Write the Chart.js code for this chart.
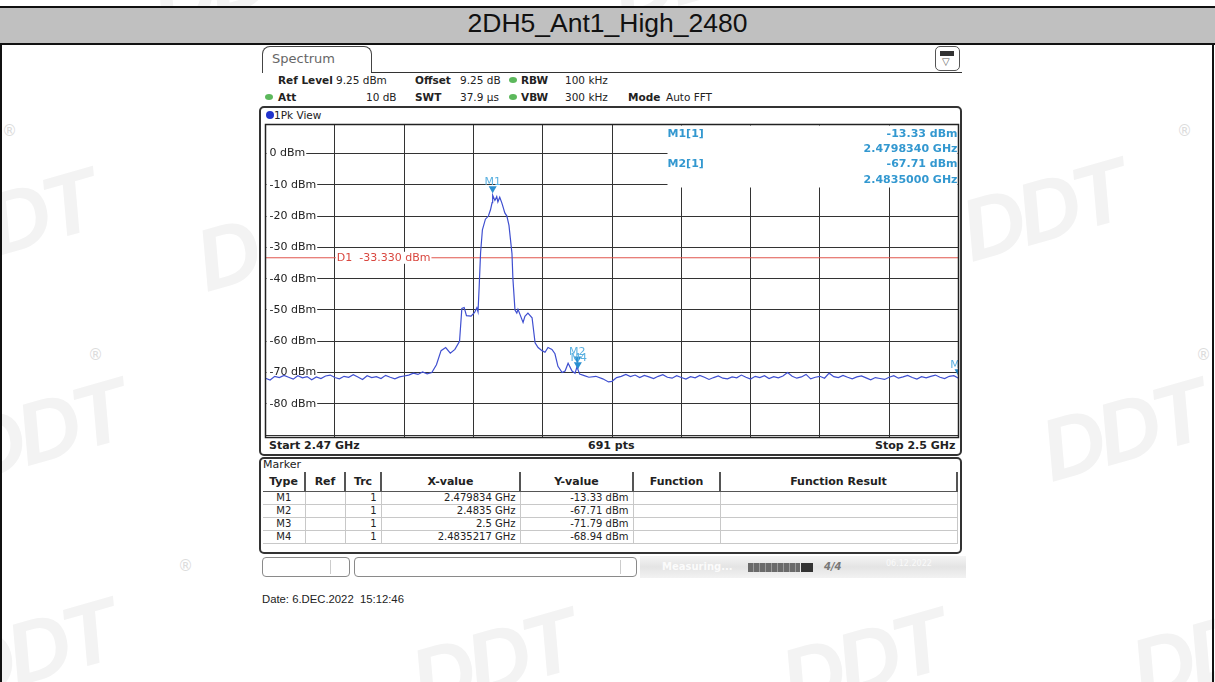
<!DOCTYPE html>
<html>
<head>
<meta charset="utf-8">
<script src="https://cdn.jsdelivr.net/npm/chart.js@4.4.0/dist/chart.umd.min.js"></script>
<style>
  body { margin: 0; width: 1215px; height: 682px; position: relative; overflow: hidden; background: #fff; font-family: "DejaVu Sans", sans-serif; color: #222; }
  .abs { position: absolute; }
  .wm { position: absolute; font: bold italic 88px "Liberation Sans", sans-serif; color: #f3f3f3; transform: rotate(-16deg); white-space: nowrap; letter-spacing: -6px; }
  .reg { position: absolute; font: 15px "DejaVu Sans", sans-serif; color: #dcdcdc; }
  #titlebar { left: 0; top: 6px; width: 1215px; height: 39px; background: #c0c0c0; border-top: 2px solid #111; border-bottom: 2px solid #111; box-sizing: border-box; }
  #title { left: 0; top: 8px; width: 1215px; height: 35px; line-height: 36px; text-align: center; font: 26.5px "Liberation Sans", Arial, sans-serif; color: #111; }
  #screen { left: 257px; top: 45px; width: 710px; height: 541px; background: #fff; }
  .tab { left: 262px; top: 46px; width: 110px; height: 27px; border: 1.5px solid #444; border-bottom: none; border-radius: 8px 8px 0 0; box-sizing: border-box; font-size: 13px; color: #666; padding: 4px 0 0 9px; background: #fff; }
  .hl { height: 0; border-top: 1.5px solid #333; }
  .hdr { font-size: 10.5px; white-space: nowrap; line-height: 12px; }
  .hdr b { font-weight: bold; }
  .dot { width: 8px; height: 6px; border-radius: 50%; background: #5cb85c; }
  .frame { border: 2px solid #333; border-radius: 5px; box-sizing: border-box; background: #fff; }
  .foot { font-weight: bold; font-size: 11px; line-height: 12px; white-space: nowrap; }
  table { border-collapse: collapse; table-layout: fixed; font-size: 10px; }
  th { font-size: 11px; font-weight: bold; height: 19px; padding: 0; border-right: 2px solid #555; border-bottom: 1px solid #555; }
  td { height: 12px; padding: 0 4px; border-right: 1px solid #c8c8c8; border-bottom: 1px solid #c8c8c8; text-align: right; line-height: 12px; white-space: nowrap; }
  td.c { text-align: center; }
  .sb { height: 20px; border: 1px solid #8a8a8a; border-radius: 4px; box-sizing: border-box; background: #fff; }
  #date { left: 262px; top: 593px; font: 11.3px "Liberation Sans", Arial, sans-serif; color: #222; }
</style>
</head>
<body>
<!-- faint company watermarks behind everything -->
<div class="wm" style="left:150px;top:-70px">DDT</div>
<div class="wm" style="left:610px;top:-80px">DDT</div>
<div class="wm" style="left:-70px;top:170px">DDT</div>
<div class="wm" style="left:195px;top:190px">DDT</div>
<div class="wm" style="left:960px;top:160px">DDT</div>
<div class="wm" style="left:-40px;top:380px">DDT</div>
<div class="wm" style="left:1040px;top:380px">DDT</div>
<div class="wm" style="left:-50px;top:600px">DDT</div>
<div class="wm" style="left:410px;top:610px">DDT</div>
<div class="wm" style="left:780px;top:610px">DDT</div>
<div class="wm" style="left:1130px;top:600px">DDT</div>
<div class="reg" style="left:2px;top:122px">®</div>
<div class="reg" style="left:1177px;top:122px">®</div>
<div class="reg" style="left:88px;top:346px">®</div>
<div class="reg" style="left:1196px;top:346px">®</div>
<div class="reg" style="left:178px;top:557px">®</div>

<div class="abs" style="left:0;top:6px;width:2px;height:676px;background:#111"></div>
<div class="abs" style="left:1212px;top:6px;width:2px;height:676px;background:#111"></div>
<div id="titlebar" class="abs"></div>
<div id="title" class="abs">2DH5_Ant1_High_2480</div>

<div id="screen" class="abs"></div>

<!-- analyzer header -->
<div class="abs tab">Spectrum</div>
<div class="abs hl" style="left:371px;top:72px;width:591px"></div>
<div class="abs" style="left:935px;top:46px;width:25px;height:25px;border:1.5px solid #555;border-radius:5px;box-sizing:border-box;background:#fff"></div>
<div class="abs" style="left:940px;top:51px;width:14px;height:5px;background:#333"></div>
<div class="abs" style="left:942px;top:56px;font-size:10px;color:#555">▽</div>

<div class="abs hdr" style="left:278px;top:74px"><b>Ref Level</b></div>
<div class="abs hdr" style="left:336px;top:74px">9.25 dBm</div>
<div class="abs hdr" style="left:415px;top:74px"><b>Offset</b></div>
<div class="abs hdr" style="left:460px;top:74px">9.25 dB</div>
<div class="abs dot" style="left:509px;top:77px"></div>
<div class="abs hdr" style="left:521px;top:74px"><b>RBW</b></div>
<div class="abs hdr" style="left:565px;top:74px">100 kHz</div>

<div class="abs dot" style="left:265px;top:94px"></div>
<div class="abs hdr" style="left:278px;top:91px"><b>Att</b></div>
<div class="abs hdr" style="left:366px;top:91px">10 dB</div>
<div class="abs hdr" style="left:415px;top:91px"><b>SWT</b></div>
<div class="abs hdr" style="left:460px;top:91px">37.9 µs</div>
<div class="abs dot" style="left:509px;top:94px"></div>
<div class="abs hdr" style="left:521px;top:91px"><b>VBW</b></div>
<div class="abs hdr" style="left:565px;top:91px">300 kHz</div>
<div class="abs hdr" style="left:628px;top:91px"><b>Mode</b></div>
<div class="abs hdr" style="left:666px;top:91px">Auto FFT</div>

<!-- trace window -->
<div class="abs frame" style="left:259px;top:106px;width:703px;height:350px"></div>
<div class="abs" style="left:266px;top:111px;width:8px;height:8px;border-radius:50%;background:#2233cc"></div>
<div class="abs hdr" style="left:274px;top:109px">1Pk View</div>
<div class="abs foot" style="left:269px;top:440px">Start 2.47 GHz</div>
<div class="abs foot" style="left:588px;top:440px">691 pts</div>
<div class="abs foot" style="left:875px;top:440px;width:78px;text-align:right">Stop 2.5 GHz</div>

<canvas id="spec" class="abs" style="left:262px;top:121px" width="700" height="320"></canvas>

<!-- marker table -->
<div class="abs frame" style="left:259px;top:457px;width:703px;height:97px"></div>
<div class="abs" style="left:263px;top:458px;font-size:11px;line-height:14px">Marker</div>
<table id="mtab" class="abs" style="left:263px;top:472px;width:694px">
  <colgroup><col style="width:42px"><col style="width:40px"><col style="width:36px"><col style="width:139px"><col style="width:113px"><col style="width:87px"><col style="width:237px"></colgroup>
  <thead><tr><th>Type</th><th>Ref</th><th>Trc</th><th>X-value</th><th>Y-value</th><th>Function</th><th>Function Result</th></tr></thead>
  <tbody></tbody>
</table>

<!-- status bar -->
<div class="abs sb" style="left:262px;top:557px;width:88px"></div>
<div class="abs" style="left:330px;top:560px;width:1px;height:14px;background:#ccc"></div>
<div class="abs sb" style="left:354px;top:557px;width:283px"></div>
<div class="abs" style="left:620px;top:560px;width:1px;height:14px;background:#ccc"></div>
<div class="abs" style="left:640px;top:556px;width:326px;height:22px;background:linear-gradient(180deg,#f4f4f4,#e4e4e4 50%,#f2f2f2)"></div>
<div class="abs" style="left:662px;top:561px;font-size:10px;font-weight:bold;color:#fbfbfb">Measuring...</div>
<div class="abs" style="left:748px;top:563px;width:52px;height:9px;background:repeating-linear-gradient(90deg,#6a6a6a 0 5px,#9a9a9a 5px 6px)"></div>
<div class="abs" style="left:801px;top:563px;width:12px;height:9px;background:#333"></div>
<div class="abs" style="left:824px;top:561px;font-size:10px;font-weight:bold;color:#777;font-style:italic">4/4</div>
<div class="abs" style="left:886px;top:559px;font-size:8px;color:#fafafa">06.12.2022</div>

<div id="date" class="abs">Date: 6.DEC.2022&nbsp;&nbsp;15:12:46</div>

<script>
// sweep: 2.47 GHz .. 2.5 GHz, ref level 9.25 dBm, 10 dB/div
const startMHz = 2470;
const stopMHz = 2500;
const refLevel = 9.25;
const bottomLevel = -90.75;
const freqGridMHz = [2470, 2473, 2476, 2479, 2482, 2485, 2488, 2491, 2494, 2497, 2500];
const levelGrid = [0, -10, -20, -30, -40, -50, -60, -70, -80, -90];
const levelLabels = [0, -10, -20, -30, -40, -50, -60, -70, -80];

// trace 1, [MHz, dBm]
const floorBelow = [
  [2470.0, -71.8], [2470.2, -72.4], [2470.4, -71.2], [2470.6, -71.6], [2470.8, -70.9],
  [2471.0, -71.5], [2471.2, -72.1], [2471.4, -71.0], [2471.6, -71.7], [2471.8, -71.3],
  [2472.0, -72.3], [2472.2, -71.4], [2472.4, -71.9], [2472.6, -71.1], [2472.8, -70.8],
  [2473.0, -71.6], [2473.2, -72.0], [2473.4, -71.2], [2473.6, -71.5], [2473.8, -70.7],
  [2474.0, -71.4], [2474.2, -72.2], [2474.4, -71.0], [2474.6, -71.6], [2474.8, -71.3],
  [2475.0, -71.9], [2475.2, -70.9], [2475.4, -71.5], [2475.6, -72.0], [2475.8, -71.4],
  [2476.0, -71.1], [2476.2, -70.8], [2476.4, -70.2], [2476.6, -70.6], [2476.8, -69.8],
  [2477.0, -70.4], [2477.2, -70.0]
];
const mainLobe = [
  [2477.4, -67.5], [2477.6, -63.0], [2477.8, -62.0], [2478.0, -63.8], [2478.2, -62.6],
  [2478.4, -60.0], [2478.5, -49.5], [2478.6, -49.2], [2478.7, -51.8], [2478.9, -52.0],
  [2479.05, -50.8], [2479.15, -49.3], [2479.2, -50.6], [2479.25, -42.6], [2479.31, -31.8],
  [2479.39, -24.4], [2479.52, -21.0], [2479.65, -20.0], [2479.74, -18.0], [2479.81, -15.7],
  [2479.834, -13.33], [2479.93, -15.0], [2480.01, -13.8], [2480.06, -15.5], [2480.14, -14.0],
  [2480.23, -15.8], [2480.28, -17.0], [2480.36, -19.0], [2480.45, -20.0], [2480.54, -23.0],
  [2480.67, -32.0], [2480.71, -40.0], [2480.80, -50.0], [2480.88, -51.0], [2480.93, -49.8],
  [2481.02, -51.5], [2481.15, -54.0], [2481.23, -52.0], [2481.36, -51.0], [2481.54, -52.5],
  [2481.67, -60.5], [2481.80, -62.0], [2481.97, -63.0], [2482.10, -63.5], [2482.23, -62.0],
  [2482.40, -62.6], [2482.53, -64.0], [2482.66, -68.0], [2482.84, -70.0], [2482.97, -69.5],
  [2483.10, -67.0], [2483.27, -69.5], [2483.40, -70.2], [2483.47, -68.5], [2483.50, -67.71],
  [2483.52, -68.94], [2483.60, -70.5], [2483.80, -71.0], [2484.00, -71.5], [2484.30, -71.2],
  [2484.60, -72.0], [2484.85, -73.0], [2485.00, -72.8], [2485.20, -71.6], [2485.40, -71.2]
];
const floorAbove = [
  [2485.6, -70.6], [2485.8, -71.3], [2486.0, -70.8], [2486.2, -71.6], [2486.4, -70.9],
  [2486.6, -71.4], [2486.8, -71.9], [2487.0, -71.2], [2487.2, -70.7], [2487.4, -71.5],
  [2487.6, -71.8], [2487.8, -71.0], [2488.0, -71.6], [2488.2, -72.1], [2488.4, -71.3],
  [2488.6, -71.7], [2488.8, -70.9], [2489.0, -71.5], [2489.2, -72.2], [2489.4, -71.6],
  [2489.6, -71.1], [2489.8, -71.8], [2490.0, -72.0], [2490.2, -71.4], [2490.4, -71.7],
  [2490.6, -70.8], [2490.8, -71.5], [2491.0, -72.1], [2491.2, -71.2], [2491.4, -71.6],
  [2491.6, -71.0], [2491.8, -71.9], [2492.0, -71.3], [2492.2, -71.7], [2492.4, -71.1],
  [2492.6, -70.0], [2492.8, -71.2], [2493.0, -71.8], [2493.2, -71.4], [2493.4, -70.6],
  [2493.6, -72.0], [2493.8, -71.5], [2494.0, -71.2], [2494.2, -71.8], [2494.4, -70.2],
  [2494.6, -71.3], [2494.8, -71.6], [2495.0, -70.9], [2495.2, -71.5], [2495.4, -72.0],
  [2495.6, -71.4], [2495.8, -71.1], [2496.0, -71.7], [2496.2, -72.3], [2496.4, -71.6],
  [2496.6, -71.9], [2496.8, -72.2], [2497.0, -71.5], [2497.2, -71.0], [2497.4, -71.8],
  [2497.6, -71.4], [2497.8, -70.9], [2498.0, -71.6], [2498.2, -72.1], [2498.4, -71.3],
  [2498.6, -71.7], [2498.8, -71.2], [2499.0, -70.8], [2499.2, -71.5], [2499.4, -71.9],
  [2499.6, -71.2], [2499.8, -71.0], [2500.0, -71.79]
];

const displayLine = -33.33;

const markerNames = ["M1", "M2", "M3", "M4"];
const markerFreqGHz = [2.479834, 2.4835, 2.5, 2.4835217];
const markerFreqText = ["2.479834 GHz", "2.4835 GHz", "2.5 GHz", "2.4835217 GHz"];
const markerLevel = [-13.33, -67.71, -71.79, -68.94];
const markerTrace = [1, 1, 1, 1];

// marker table rows
const tbody = document.querySelector("#mtab tbody");
markerNames.forEach((name, i) => {
    const tr = document.createElement("tr");
    tr.innerHTML = `<td class="c">${name}</td><td></td><td>${markerTrace[i]}</td>` +
        `<td>${markerFreqText[i]}</td><td>${markerLevel[i].toFixed(2)} dBm</td><td></td><td></td>`;
    tbody.appendChild(tr);
});

const traceData = floorBelow.concat(mainLobe, floorAbove).map(p => ({ x: p[0], y: p[1] }));

const markerBlue = "#2a8fd0";
const readoutBlue = "#3398d0";

const overlay = {
    id: "overlay",
    beforeDatasetsDraw(chart) {
        const { ctx, chartArea: a, scales: { y } } = chart;
        ctx.save();
        ctx.font = '11px "DejaVu Sans"';
        ctx.textBaseline = "middle";
        levelLabels.forEach(v => {
            const py = y.getPixelForValue(v);
            const t = v + " dBm";
            const w = ctx.measureText(t).width;
            ctx.fillStyle = "#fff";
            ctx.fillRect(a.left + 1, py - 6, w + 4, 12);
            ctx.fillStyle = "#222";
            ctx.fillText(t, a.left + 4, py);
        });

        // marker readout in the top right corner
        const boxLeft = a.left + 402;
        const boxBottom = a.top + 62;
        ctx.fillStyle = "#fff";
        ctx.fillRect(boxLeft, a.top + 1, a.right - boxLeft - 1, boxBottom - a.top);
        ctx.font = 'bold 11px "DejaVu Sans"';
        ctx.fillStyle = readoutBlue;
        const rows = [
            ["M1[1]", markerLevel[0].toFixed(2) + " dBm"],
            ["", markerFreqGHz[0].toFixed(7) + " GHz"],
            ["M2[1]", markerLevel[1].toFixed(2) + " dBm"],
            ["", markerFreqGHz[1].toFixed(7) + " GHz"]
        ];
        rows.forEach((r, i) => {
            const py = a.top + 9.5 + i * 15.3;
            ctx.textAlign = "left";
            ctx.fillText(r[0], boxLeft, py);
            ctx.textAlign = "right";
            ctx.fillText(r[1], a.right - 1, py);
        });
        ctx.restore();
    },
    afterDatasetsDraw(chart) {
        const { ctx, chartArea: a, scales: { x, y } } = chart;
        ctx.save();

        // display line label
        const dy = y.getPixelForValue(displayLine);
        ctx.font = '11px "DejaVu Sans"';
        ctx.textBaseline = "middle";
        const label = "D1  " + displayLine.toFixed(3) + " dBm";
        const lx = x.getPixelForValue(2473) + 2;
        ctx.fillStyle = "#fff";
        ctx.fillRect(lx - 1, dy - 6, ctx.measureText(label).width + 2, 12);
        ctx.fillStyle = "#d9473f";
        ctx.fillText(label, lx, dy);

        // markers
        ctx.beginPath();
        ctx.rect(a.left, a.top, a.right - a.left, a.bottom - a.top);
        ctx.clip();
        const order = [0, 1, 3, 2];
        order.forEach(i => {
            const px = x.getPixelForValue(markerFreqGHz[i] * 1000);
            const py = y.getPixelForValue(markerLevel[i]);
            const off = i === 3 ? 2 : 0;
            ctx.fillStyle = markerBlue;
            ctx.beginPath();
            ctx.moveTo(px - 4, py - 9 + off);
            ctx.lineTo(px + 4, py - 9 + off);
            ctx.lineTo(px, py - 2 + off);
            ctx.closePath();
            ctx.fill();
            ctx.fillStyle = "#5ab0e0";
            ctx.font = '11px "DejaVu Sans"';
            ctx.textAlign = "center";
            ctx.fillText(markerNames[i], px + (i === 3 ? 1 : 0), py - 13 + off);
        });
        ctx.restore();

        // plot border
        ctx.save();
        ctx.strokeStyle = "#222";
        ctx.lineWidth = 1.5;
        ctx.strokeRect(a.left, a.top, a.right - a.left, a.bottom - a.top);
        ctx.restore();
    }
};

new Chart(document.getElementById("spec").getContext("2d"), {
    type: "line",
    data: {
        datasets: [
            {
                label: "Trace 1",
                data: traceData,
                borderColor: "#3f4fd0",
                borderWidth: 1.2,
                pointRadius: 0,
                tension: 0,
                fill: false
            },
            {
                label: "D1",
                data: [{ x: startMHz, y: displayLine }, { x: stopMHz, y: displayLine }],
                borderColor: "#e0554c",
                borderWidth: 1,
                pointRadius: 0,
                fill: false
            }
        ]
    },
    options: {
        responsive: false,
        animation: false,
        devicePixelRatio: 1,
        layout: { padding: { left: 3.5, top: 3.5, right: 3.5, bottom: 3.5 } },
        plugins: { legend: { display: false }, tooltip: { enabled: false } },
        scales: {
            x: {
                type: "linear",
                min: startMHz,
                max: stopMHz,
                afterBuildTicks: s => { s.ticks = freqGridMHz.map(v => ({ value: v })); },
                ticks: { display: false },
                grid: { color: "#333", lineWidth: 1, drawTicks: false },
                border: { display: false }
            },
            y: {
                type: "linear",
                min: bottomLevel,
                max: refLevel,
                afterBuildTicks: s => { s.ticks = levelGrid.map(v => ({ value: v })); },
                ticks: { display: false },
                grid: { color: "#333", lineWidth: 1, drawTicks: false },
                border: { display: false }
            }
        }
    },
    plugins: [overlay]
});
</script>
</body>
</html>
